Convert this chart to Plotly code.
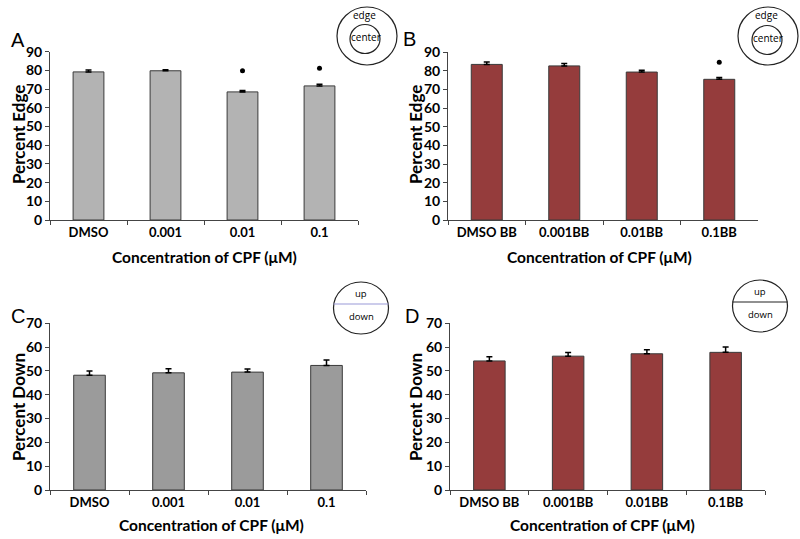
import plotly.graph_objects as go

W, H = 800, 539

# ---- data ----
cats_plain = ["DMSO", "0.001", "0.01", "0.1"]
cats_bb = ["DMSO BB", "0.001BB", "0.01BB", "0.1BB"]

edge_plain = [79.2, 79.8, 68.5, 71.7]
edge_plain_err = [1.0, 0.6, 0.8, 0.9]
edge_bb = [83.5, 82.7, 79.4, 75.5]
edge_bb_err = [1.3, 1.3, 0.9, 1.0]

down_plain = [48.2, 49.2, 49.5, 52.3]
down_plain_err = [1.8, 1.7, 1.3, 2.3]
down_bb = [54.2, 56.2, 57.2, 57.8]
down_bb_err = [1.8, 1.5, 1.7, 2.3]

star_plain_cats = ["0.01", "0.1"]
star_plain_y = [79.8, 81.1]
star_bb_cats = ["0.1BB"]
star_bb_y = [84.6]

GRAY_A = "#b3b3b3"
GRAY_C = "#9b9b9b"
RED = "#953c3c"
FONT = "Lato"

def px_x(p):
    return p / W

def px_y(p):
    return 1 - p / H

panels = [
    ("A", cats_plain, edge_plain, edge_plain_err, GRAY_A, (50, 358), (51.7, 220), 90, (star_plain_cats, star_plain_y)),
    ("B", cats_bb, edge_bb, edge_bb_err, RED, (448, 758), (52.3, 220), 90, (star_bb_cats, star_bb_y)),
    ("C", cats_plain, down_plain, down_plain_err, GRAY_C, (50, 366), (323.3, 490), 70, None),
    ("D", cats_bb, down_bb, down_bb_err, RED, (450, 765), (323.3, 490), 70, None),
]

fig = go.Figure()
layout = dict(
    width=W, height=H, margin=dict(l=0, r=0, t=0, b=0, autoexpand=False),
    paper_bgcolor="white", plot_bgcolor="white", showlegend=False,
    font=dict(family=FONT, color="black"),
)

for i, (name, cats, vals, errs, color, xd, yd, ymax, stars) in enumerate(panels):
    idx = "" if i == 0 else str(i + 1)
    xa, ya = "x" + idx, "y" + idx
    fig.add_trace(go.Bar(
        x=cats, y=vals, xaxis=xa, yaxis=ya, width=0.4,
        marker=dict(color=color, line=dict(color="#3a3a3a", width=1)),
        error_y=dict(type="data", array=errs, arrayminus=[0] * len(errs), symmetric=False,
                     color="black", thickness=1.5, width=3),
        hoverinfo="skip",
    ))
    if stars:
        fig.add_trace(go.Scatter(
            x=stars[0], y=stars[1], xaxis=xa, yaxis=ya, mode="markers",
            marker=dict(color="black", size=5), hoverinfo="skip",
        ))
    layout["xaxis" + idx] = dict(
        domain=[px_x(xd[0]), px_x(xd[1])], anchor=ya, type="category", automargin=False,
        categoryorder="array", categoryarray=cats, range=[-0.5, 3.5],
        showline=True, linecolor="#444", linewidth=1, ticks="outside", tickson="boundaries",
        ticklen=4, tickcolor="#444", showgrid=False, zeroline=False,
        tickfont=dict(family=FONT, size=13, color="black", weight="bold"),
    )
    layout["yaxis" + idx] = dict(
        domain=[px_y(yd[1]), px_y(yd[0])], anchor=xa, range=[0, ymax], dtick=10, automargin=False,
        showline=True, linecolor="#444", linewidth=1, ticks="outside", ticklen=4,
        tickcolor="#444", showgrid=False, zeroline=False,
        tickfont=dict(family=FONT, size=14, color="black", weight="bold"),
    )

annotations = []
def add_text(x, y, text, size, bold=True, angle=0, family=FONT, color="black"):
    annotations.append(dict(
        xref="paper", yref="paper", x=px_x(x), y=px_y(y), text=text, showarrow=False,
        xanchor="center", yanchor="middle", textangle=angle,
        font=dict(family=family, size=size, color=color, weight="bold" if bold else "normal"),
    ))

for (cx, cy) in [(204, 257), (599, 257), (211, 525), (602, 525)]:
    add_text(cx, cy, "Concentration of CPF (μM)", 15.5)
add_text(18, 135, "Percent Edge", 17, angle=-90)
add_text(415, 135, "Percent Edge", 17, angle=-90)
add_text(18, 407, "Percent Down", 17, angle=-90)
add_text(415, 407, "Percent Down", 17, angle=-90)

for (lx, ly, t) in [(18, 40, "A"), (410, 39, "B"), (18, 316, "C"), (412, 316, "D")]:
    add_text(lx, ly, t, 20, bold=False, family="Liberation Sans")

shapes = []
def circle(cx, cy, rx, ry, color="#222"):
    shapes.append(dict(type="circle", xref="paper", yref="paper",
                       x0=px_x(cx - rx), x1=px_x(cx + rx), y0=px_y(cy + ry), y1=px_y(cy - ry),
                       line=dict(color=color, width=1.2)))

for (ox, oy, ix, iy) in [(367, 36, 365, 39), (768, 36, 767, 40)]:
    circle(ox, oy, 30, 29)
    circle(ix, iy, 15, 14.5)
    add_text(ix - 1, oy - 21, "edge", 10, bold=False, family="Open Sans", color="black")
    add_text(ix + 1, iy - 2, "center", 10, bold=False, family="Open Sans", color="black")

for (cx, cy, lc) in [(361, 308, "#9a9ad8"), (760, 306, "#222")]:
    circle(cx, cy, 27.5, 26)
    shapes.append(dict(type="line", xref="paper", yref="paper",
                       x0=px_x(cx - 27.5), x1=px_x(cx + 27.5), y0=px_y(cy - 4), y1=px_y(cy - 4),
                       line=dict(color=lc, width=1.2)))
    add_text(cx, cy - 15, "up", 9.5, bold=False, family="Open Sans", color="black")
    add_text(cx, cy + 8, "down", 9.5, bold=False, family="Open Sans", color="black")

layout["annotations"] = annotations
layout["shapes"] = shapes
fig.update_layout(**layout)
fig.write_html("out.html", config={"displayModeBar": False},
               post_script="document.body.style.margin='0';document.body.style.overflow='hidden';")
